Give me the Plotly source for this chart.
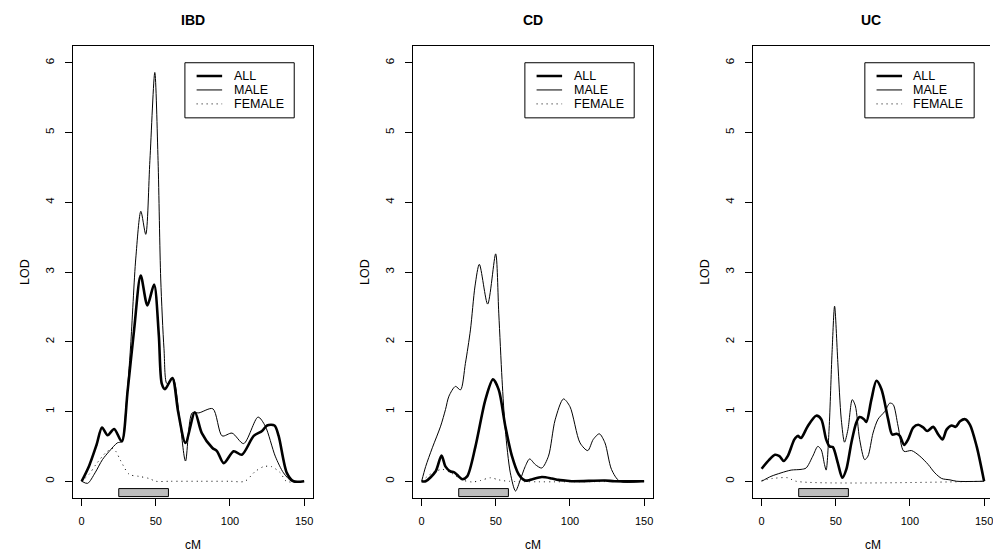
import plotly.graph_objects as go

# ---------------- data ----------------
panel_titles = ["IBD", "CD", "UC"]
series_names = ["ALL", "MALE", "FEMALE"]
x_ticks = [0, 50, 100, 150]
y_ticks = [0, 1, 2, 3, 4, 5, 6]
region_cm = [25, 58.5]          # grey bar under the axis
region_lod = [-0.22, -0.105]

# IBD
ibd_all_cm = [0, 5, 10, 13.7, 17.5, 21.9, 27, 31, 35.4, 39.8, 44.3, 48.8, 52, 54, 56.2, 61.1, 65,
              70, 76.3, 81, 88, 91.3, 95.8, 102.5, 108, 116, 121.6, 125, 130, 132.8, 138.3, 142.8, 150]
ibd_all_lod = [0, 0.22, 0.52, 0.77, 0.66, 0.75, 0.57, 1.3, 2.18, 2.95, 2.52, 2.82, 2.1, 1.4, 1.32, 1.48, 1.0,
               0.55, 0.99, 0.69, 0.48, 0.43, 0.26, 0.43, 0.38, 0.65, 0.72, 0.80, 0.80, 0.65, 0.12, 0, 0]
ibd_male_cm = [0, 4, 9, 14, 18.6, 24, 27, 30, 33, 36.5, 39.9, 43.2, 46, 49.3, 51.5, 53.3, 55.5, 57.5,
               61.5, 66, 70, 74.5, 79, 88.4, 94.7, 101.4, 109.2, 118.9, 123.8, 130.5, 136.1, 141.7, 150]
ibd_male_lod = [0, -0.03, 0.12, 0.31, 0.43, 0.55, 0.57, 1.1, 1.94, 3.2, 3.87, 3.54, 4.6, 5.86, 4.6, 2.9, 1.9, 1.4,
                1.48, 0.9, 0.29, 0.98, 0.98, 1.04, 0.65, 0.69, 0.54, 0.92, 0.79, 0.36, 0.12, 0, 0]
ibd_female_cm = [0, 5, 9.6, 16.3, 20.8, 23, 26.4, 32, 38.7, 45.4, 50, 60, 80, 100, 110, 117, 122.7, 128, 134, 138, 150]
ibd_female_lod = [0, 0.1, 0.24, 0.41, 0.47, 0.43, 0.29, 0.10, 0.07, 0.04, 0, 0, 0, 0, 0, 0.14, 0.21, 0.21, 0.12, 0, 0]

# CD
cd_all_cm = [0, 2.7, 9.4, 13.4, 16.1, 19.5, 21.7, 25, 27.3, 30.7, 36.3, 43, 48.1, 52, 56.4, 60.9, 65.4,
             69.8, 73.2, 81, 87.8, 92.2, 96.7, 101, 123.6, 130, 150]
cd_all_lod = [0, 0, 0.14, 0.37, 0.21, 0.14, 0.13, 0.07, 0.03, 0.07, 0.50, 1.17, 1.46, 1.31, 0.79, 0.36, 0.10,
              0.01, 0.02, 0.06, 0.04, 0.02, 0.01, 0, 0.01, 0, 0]
cd_male_cm = [0, 2.7, 7.2, 12.8, 16.1, 18.4, 22.8, 26.2, 29.5, 32.9, 36, 38.9, 44.5, 49.9, 52, 54.2, 56.4,
              59.8, 63.3, 66.5, 69.8, 72.8, 76.6, 81, 85.5, 90, 95.6, 100, 106.8, 112, 115.7, 119.8, 123.6,
              128, 133.6, 150]
cd_male_lod = [0, 0.21, 0.48, 0.79, 1.03, 1.22, 1.36, 1.31, 1.69, 2.17, 2.8, 3.11, 2.54, 3.26, 2.41, 1.46, 0.74,
               0.12, -0.14, 0.02, 0.21, 0.32, 0.24, 0.19, 0.36, 0.88, 1.18, 1.07, 0.55, 0.44, 0.60, 0.68, 0.55,
               0.17, 0, 0]
cd_female_cm = [0, 7.2, 14, 20.6, 27.3, 34, 39.6, 46.3, 52, 58.7, 150]
cd_female_lod = [0, 0.12, 0.17, 0.11, 0.02, -0.01, 0.01, 0.05, 0.02, 0, 0]

# UC
uc_all_cm = [0, 5.2, 9, 12, 14.9, 17.6, 22.1, 24.4, 26.6, 31.1, 36.8, 40.2, 43.5, 45.8, 48, 51.4, 54.4,
             57.1, 60.5, 63.8, 66.1, 69, 70.6, 74, 77.4, 80.8, 85.3, 88, 90.9, 93.2, 96.1, 98.8, 102.2,
             105.6, 109, 111.7, 115.7, 119.1, 122, 124.7, 128.1, 130.8, 133.8, 137.2, 140.5, 145, 150]
uc_all_lod = [0.18, 0.31, 0.38, 0.36, 0.29, 0.36, 0.60, 0.65, 0.62, 0.79, 0.94, 0.89, 0.60, 0.50, 0.49, 0.26,
              0.05, 0.17, 0.55, 0.84, 0.92, 0.89, 0.85, 1.17, 1.44, 1.32, 0.89, 0.67, 0.68, 0.65, 0.52, 0.60,
              0.77, 0.81, 0.77, 0.72, 0.78, 0.67, 0.60, 0.74, 0.80, 0.78, 0.86, 0.89, 0.81, 0.50, 0]
uc_male_cm = [0, 6.3, 13.1, 19.9, 26.6, 30, 34.5, 37.9, 40.2, 42.4, 43.5, 45.5, 47.5, 49.2, 51.4, 53.7,
              55.9, 58.2, 61.1, 63.2, 66.1, 69.5, 71.7, 75.1, 78.5, 83, 86.4, 88.7, 92, 95.9, 101.1, 106.7,
              112.3, 116.8, 121.4, 127, 131.5, 150]
uc_male_lod = [0, 0.07, 0.12, 0.16, 0.17, 0.19, 0.36, 0.50, 0.45, 0.24, 0.16, 0.75, 1.85, 2.51, 1.70, 0.89,
               0.56, 0.74, 1.17, 1.08, 0.60, 0.31, 0.36, 0.69, 0.89, 1.00, 1.12, 1.10, 0.79, 0.43, 0.44, 0.36,
               0.24, 0.12, 0.04, 0.02, 0, 0]
uc_female_cm = [0, 7.4, 17.6, 23.2, 150]
uc_female_lod = [0.01, 0.04, 0.05, 0, 0]

panels = [
    [(ibd_all_cm, ibd_all_lod), (ibd_male_cm, ibd_male_lod), (ibd_female_cm, ibd_female_lod)],
    [(cd_all_cm, cd_all_lod), (cd_male_cm, cd_male_lod), (cd_female_cm, cd_female_lod)],
    [(uc_all_cm, uc_all_lod), (uc_male_cm, uc_male_lod), (uc_female_cm, uc_female_lod)],
]

# ---------------- layout constants ----------------
W, H = 993, 554
FONT = "Liberation Sans, Arial, sans-serif"
panel_px = [(73, 314), (414, 655), (755, 993)]
px_per_unit = 241 / 162.0
x_ranges = [[-6, 156], [-6, 156], [-6, -6 + (993 - 755) / px_per_unit]]
y_range = [-0.24, 6.24]
plot_top, plot_bottom = 46, 498
ydom = [(H - plot_bottom) / H, (H - plot_top) / H]

styles = [dict(color="black", width=2.6),
          dict(color="black", width=1),
          dict(color="black", width=1, dash="1px,4px")]

fig = go.Figure()
for i, series in enumerate(panels):
    xa = "x" if i == 0 else f"x{i+1}"
    ya = "y" if i == 0 else f"y{i+1}"
    for (cm, lod), name, st in zip(series, series_names, styles):
        fig.add_trace(go.Scatter(x=cm, y=lod, mode="lines", name=name,
                                 line=dict(shape="spline", smoothing=0.8, **st),
                                 xaxis=xa, yaxis=ya, showlegend=False, hoverinfo="skip"))

layout = dict(width=W, height=H, margin=dict(l=0, r=0, t=0, b=0),
              paper_bgcolor="white", plot_bgcolor="white",
              font=dict(family=FONT, color="black", size=11), showlegend=False)

shapes, annotations = [], []
for i, (l, r) in enumerate(panel_px):
    sfx = "" if i == 0 else str(i + 1)
    layout[f"xaxis{sfx}"] = dict(domain=[l / W, r / W], range=x_ranges[i], anchor=f"y{sfx}",
                                 tickvals=x_ticks, ticks="outside", ticklen=7, tickcolor="black",
                                 showline=True, linecolor="black", linewidth=1, mirror=True,
                                 showgrid=False, zeroline=False, ticklabelstandoff=6,
                                 ticklabeloverflow="allow",
                                 tickfont=dict(size=11, family=FONT))
    layout[f"yaxis{sfx}"] = dict(domain=ydom, range=y_range, anchor=f"x{sfx}",
                                 tickvals=y_ticks, ticks="outside", ticklen=7, tickcolor="black",
                                 showline=True, linecolor="black", linewidth=1,
                                 mirror=(i < 2), showgrid=False, zeroline=False, tickangle=-90,
                                 ticklabelstandoff=6, tickfont=dict(size=11.5, family=FONT))
    xr, yr = f"x{sfx}", f"y{sfx}"
    # grey region bar
    shapes.append(dict(type="rect", xref=xr, yref=yr, x0=region_cm[0], x1=region_cm[1],
                       y0=region_lod[0], y1=region_lod[1], fillcolor="#BEBEBE",
                       line=dict(color="black", width=1), layer="above"))
    # legend box
    shapes.append(dict(type="rect", xref=xr, yref=yr, x0=69.6, x1=143.3, y0=5.21, y1=6.0,
                       fillcolor="white", line=dict(color="black", width=1), layer="above"))
    for k, (name, st) in enumerate(zip(series_names, styles)):
        yy = 5.81 - 0.2 * k
        shapes.append(dict(type="line", xref=xr, yref=yr, x0=77.5, x1=94.7, y0=yy, y1=yy,
                           line=st, layer="above"))
        annotations.append(dict(xref=xr, yref=yr, x=102.4, y=yy, text=name, showarrow=False,
                                xanchor="left", yanchor="middle", xshift=-2,
                                font=dict(size=12.5, family=FONT)))
    # titles
    annotations.append(dict(xref=f"{xr} domain", yref="paper", x=0.5, y=(H - 20) / H,
                            text=f"<b>{panel_titles[i]}</b>", showarrow=False,
                            xanchor="center", yanchor="middle", font=dict(size=14, family=FONT)))
    annotations.append(dict(xref=f"{xr} domain", yref="paper", x=0.5 if i < 2 else (875.5 - 755) / (993 - 755),
                            y=(H - 545) / H, text="cM", showarrow=False,
                            xanchor="center", yanchor="middle", font=dict(size=12, family=FONT)))
    annotations.append(dict(xref="paper", yref="paper", x=(l - 48) / W, y=(H - 272) / H,
                            text="LOD", showarrow=False, textangle=-90,
                            xanchor="center", yanchor="middle", font=dict(size=12.5, family=FONT)))

layout["shapes"] = shapes
layout["annotations"] = annotations
fig.update_layout(**layout)
fig.write_html("out.html", config={"displayModeBar": False},
               post_script="document.body.style.margin='0';document.body.style.overflow='hidden';")
